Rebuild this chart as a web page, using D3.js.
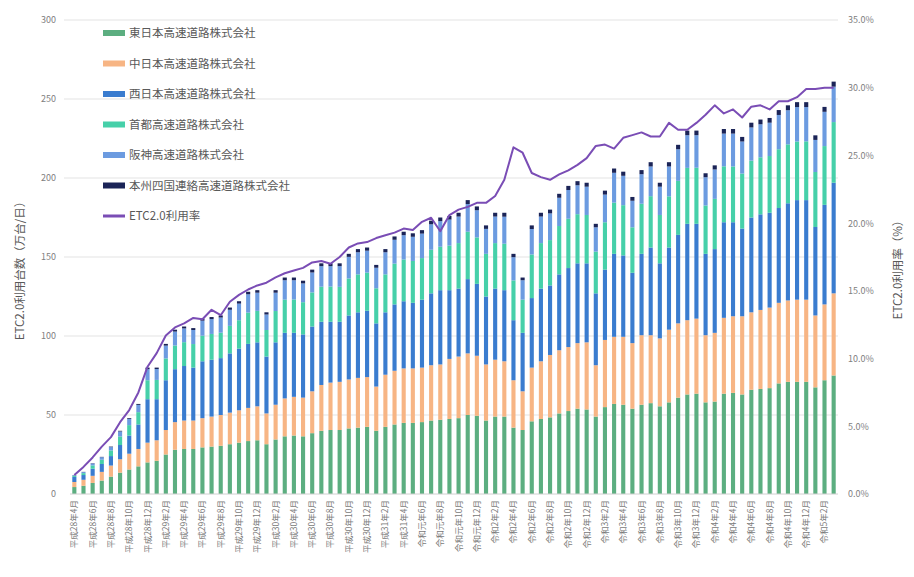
<!DOCTYPE html>
<html>
<head>
<meta charset="utf-8">
<script src="https://d3js.org/d3.v7.min.js"></script>
<style>
  body { margin: 0; background: #fff; }
  text { font-family: "Noto Sans CJK JP", "Noto Sans", sans-serif; }
</style>
</head>
<body>
<div class="chart"></div>
<script>
(function() {

// categories (monthly)
var months = [
  '平成28年4月','平成28年5月','平成28年6月','平成28年7月','平成28年8月','平成28年9月',
  '平成28年10月','平成28年11月','平成28年12月','平成29年1月','平成29年2月','平成29年3月',
  '平成29年4月','平成29年5月','平成29年6月','平成29年7月','平成29年8月','平成29年9月',
  '平成29年10月','平成29年11月','平成29年12月','平成30年1月','平成30年2月','平成30年3月',
  '平成30年4月','平成30年5月','平成30年6月','平成30年7月','平成30年8月','平成30年9月',
  '平成30年10月','平成30年11月','平成30年12月','平成31年1月','平成31年2月','平成31年3月',
  '平成31年4月','令和元年5月','令和元年6月','令和元年7月','令和元年8月','令和元年9月',
  '令和元年10月','令和元年11月','令和元年12月','令和2年1月','令和2年2月','令和2年3月',
  '令和2年4月','令和2年5月','令和2年6月','令和2年7月','令和2年8月','令和2年9月',
  '令和2年10月','令和2年11月','令和2年12月','令和3年1月','令和3年2月','令和3年3月',
  '令和3年4月','令和3年5月','令和3年6月','令和3年7月','令和3年8月','令和3年9月',
  '令和3年10月','令和3年11月','令和3年12月','令和4年1月','令和4年2月','令和4年3月',
  '令和4年4月','令和4年5月','令和4年6月','令和4年7月','令和4年8月','令和4年9月',
  '令和4年10月','令和4年11月','令和4年12月','令和5年1月','令和5年2月','令和5年3月'
];

// 万台/日
var east = [4.4,5.2,7,8.5,11,13.5,15.5,17.5,20,21,25,28,28.5,28.5,29.5,30,30.5,31.5,32.5,33.5,34,31.5,34.5,36.5,
  37,36.5,38.5,40,40.5,40.5,41.5,42,42.5,40,42.5,44,45,45,45.5,46.5,47,47.5,48,50,49.5,46.5,49,49,
  42,40.5,46,47.5,48.5,51,52.5,54,53.5,49,55,57,56.5,54,56.5,57.5,55.5,58,61,63,63.5,58,58.5,63.5,
  64,63,66,66.5,67,70,71,71,71,67.5,72,75];
var central = [3.2,3.8,4.5,5.5,7,8.5,10,11,12.5,13,15.5,17.5,18,18,18.5,19,19.5,20,20.5,21,21.5,19.5,22,24,
  24.5,24.5,26.5,29,30,30.5,31,31.5,31.5,28,33,34,34.5,34.5,34.5,35,35,38,39,39,38,35.5,36,35,
  30,24.5,34,36.5,39.5,40,40.5,41.5,42.5,32.5,42.5,42.5,43,41.5,44,43,43,46,47,47,47.5,42.5,43.5,48,
  48.5,49.5,49,50,51,51,51.5,52,52,45.5,48,52];
var west = [3.2,3,4.5,5,6,9,11.5,15.5,27.5,26,31.5,33.5,34.5,33.5,36,36,36,37.5,39,40.5,40.5,36,39.5,41.5,
  40.5,40,41,40,38.5,38,40.5,41.5,42,40,39.5,42,42.5,41.5,43,45.5,47,43.5,43,47,45.5,43,45,45,
  38,37,44,46,44,48,50,50.5,50,45.5,44.5,52.5,51.5,44.5,51.5,55.5,47.5,52,56,61,60,51.5,53,60.5,
  59.5,55.5,60,60.5,60,60,61.5,63,63,56,63,70];
var shuto = [0.7,1.2,2.1,2.7,3.6,5.4,6.6,7.8,12,12.2,13.8,15,15.1,14.9,16.2,16.3,16.1,17.4,18,19.8,19.9,16.8,19.8,21,
  21.1,20.4,21.6,22.2,22.3,22.1,23.4,24,24.1,22.2,24,25.8,26.4,26.5,26.3,27.6,27.5,28.2,28.8,30,29.4,27,28.8,29.4,
  25.2,21,27.6,28.8,28.7,30.6,31.2,31.1,30.6,26.4,30,32.4,31.8,28.8,31.7,32.5,30.6,32.4,34.2,35.4,35.5,30.6,31.8,35.4,
  35.3,34.8,36,36.1,35.9,37.2,37.3,37.1,37.2,34.8,37.2,38.4];
var hanshin = [0.4,0.7,1.2,1.6,2.1,3.2,3.9,4.6,7,6.9,8.1,8.8,8.7,8.9,9.5,9.4,9.6,10.2,10.5,11.6,11.5,9.8,11.6,12.3,
  12.2,11.9,12.6,13,12.9,13.1,13.7,14,13.9,13,14,15.1,15.4,15.3,15.5,16.1,16.2,16.5,16.8,17.5,17.2,15.8,16.8,17.1,
  14.7,12.3,16.1,16.8,16.9,17.9,18.2,18.3,17.9,15.4,17.5,18.9,18.6,16.8,18.7,18.8,17.9,18.9,20,20.7,20.6,17.9,18.6,20.7,
  20.8,20.3,21,20.9,21.1,21.7,21.6,21.8,21.7,20.3,21.7,22.4];
var honshi = [0.1,0.1,0.2,0.2,0.3,0.4,0.5,0.6,1,0.9,1.1,1.2,1.2,1.2,1.3,1.3,1.3,1.4,1.5,1.6,1.6,1.4,1.6,1.7,
  1.7,1.7,1.8,1.8,1.8,1.8,1.9,2,2,1.8,2,2.1,2.2,2.2,2.2,2.3,2.3,2.3,2.4,2.5,2.4,2.2,2.4,2.5,
  2.1,1.7,2.3,2.4,2.4,2.5,2.6,2.6,2.5,2.2,2.5,2.7,2.6,2.4,2.6,2.7,2.5,2.7,2.8,2.9,2.9,2.5,2.6,2.9,
  2.9,2.9,3,3,3,3.1,3.1,3.1,3.1,2.9,3.1,3.2];

// ETC2.0利用率 (%)
var rate = [1.4,2.0,2.7,3.5,4.2,5.3,6.2,7.5,9.4,10.4,11.7,12.3,12.6,13.0,12.9,13.6,13.2,14.2,14.7,15.1,15.4,15.6,16.0,16.3,
  16.5,16.7,17.1,17.2,17.0,17.5,18.2,18.5,18.6,18.9,19.1,19.3,19.6,19.5,20.1,20.4,19.4,20.6,21.0,21.2,21.5,21.5,22.0,23.2,
  25.6,25.2,23.7,23.4,23.2,23.6,23.9,24.3,24.8,25.7,25.8,25.5,26.3,26.5,26.7,26.4,26.4,27.4,26.9,26.9,27.4,28.0,28.7,28.1,
  28.4,27.8,28.6,28.7,28.4,29.0,29.0,29.3,29.9,29.9,30.0,30.0];

var seriesNames = ['東日本高速道路株式会社','中日本高速道路株式会社','西日本高速道路株式会社',
  '首都高速道路株式会社','阪神高速道路株式会社','本州四国連絡高速道路株式会社'];
var lineName = 'ETC2.0利用率';
var leftTicks = [0, 50, 100, 150, 200, 250, 300];
var rightTicks = [0, 5, 10, 15, 20, 25, 30, 35];

var colors = ['#5cae80', '#f7b584', '#3a7ccf', '#46d0a9', '#6c9be0', '#1b2457'];
var lineColor = '#7a4db5';

var width = 914, height = 577;
var margin = {top: 20, right: 76, bottom: 83, left: 70};
var innerW = width - margin.left - margin.right;
var innerH = height - margin.top - margin.bottom;

var svg = d3.select('.chart')
  .append('svg')
  .attr('width', width)
  .attr('height', height);

var g = svg.append('g')
  .attr('transform', 'translate(' + margin.left + ',' + margin.top + ')');

var x = d3.scaleBand()
  .domain(months)
  .range([0, innerW])
  .paddingInner(0.55)
  .paddingOuter(0.25);

var y = d3.scaleLinear().domain([0, 300]).range([innerH, 0]);
var y2 = d3.scaleLinear().domain([0, 35]).range([innerH, 0]);

// gridlines
g.selectAll('.grid').data(leftTicks.slice(1)).enter()
  .append('line')
  .attr('x1', -6)
  .attr('x2', innerW)
  .attr('y1', function(d) { return y(d); })
  .attr('y2', function(d) { return y(d); })
  .attr('stroke', '#e3e3e3')
  .attr('stroke-width', 1);

// build table for the stack
var keys = ['east', 'central', 'west', 'shuto', 'hanshin', 'honshi'];
var cols = [east, central, west, shuto, hanshin, honshi];
var table = months.map(function(m, i) {
  var row = {month: m};
  keys.forEach(function(k, j) { row[k] = cols[j][i]; });
  return row;
});

var stacked = d3.stack().keys(keys)(table);

g.selectAll('.layer').data(stacked).enter()
  .append('g')
  .attr('fill', function(d, i) { return colors[i]; })
  .selectAll('rect').data(function(d) { return d; }).enter()
  .append('rect')
  .attr('x', function(d) { return x(d.data.month); })
  .attr('width', x.bandwidth())
  .attr('y', function(d) { return y(d[1]); })
  .attr('height', function(d) { return y(d[0]) - y(d[1]); });

// x axis line
g.append('line')
  .attr('x1', 0).attr('x2', innerW)
  .attr('y1', innerH).attr('y2', innerH)
  .attr('stroke', '#d0d0d0');

// rate line
var line = d3.line()
  .x(function(d, i) { return x(months[i]) + x.bandwidth() / 2; })
  .y(function(d) { return y2(d); });

g.append('path')
  .datum(rate)
  .attr('d', line)
  .attr('fill', 'none')
  .attr('stroke', lineColor)
  .attr('stroke-width', 2)
  .attr('stroke-linejoin', 'round');

// left axis
var yAxis = d3.axisLeft(y).tickValues(leftTicks).tickSize(0).tickPadding(14);
g.append('g').call(yAxis)
  .call(function(s) { s.select('.domain').remove(); })
  .selectAll('text')
  .style('fill', '#808080')
  .style('font-size', '9px');

// right axis
var y2Axis = d3.axisRight(y2).tickValues(rightTicks).tickSize(0).tickPadding(10)
  .tickFormat(function(d) { return d.toFixed(1) + '%'; });
g.append('g')
  .attr('transform', 'translate(' + innerW + ',0)')
  .call(y2Axis)
  .call(function(s) { s.select('.domain').remove(); })
  .selectAll('text')
  .style('fill', '#808080')
  .style('font-size', '9px');

// bottom labels, every other month
var xAxis = d3.axisBottom(x)
  .tickValues(months.filter(function(d, i) { return i % 2 === 0; }))
  .tickSize(0)
  .tickPadding(6);
g.append('g')
  .attr('transform', 'translate(0,' + innerH + ')')
  .call(xAxis)
  .call(function(s) { s.select('.domain').remove(); })
  .selectAll('text')
  .style('fill', '#7a7a7a')
  .style('font-size', '8.5px')
  .attr('text-anchor', 'end')
  .attr('dx', '-6')
  .attr('dy', '0.35em')
  .attr('y', 0)
  .attr('transform', 'rotate(-90)');

// axis titles
svg.append('text')
  .attr('transform', 'translate(24,' + 268 + ') rotate(-90)')
  .attr('text-anchor', 'middle')
  .attr('fill', '#595959')
  .style('font-size', '11.5px')
  .text('ETC2.0利用台数（万台/日）');

svg.append('text')
  .attr('transform', 'translate(902,' + 267 + ') rotate(-90)')
  .attr('text-anchor', 'middle')
  .attr('fill', '#595959')
  .style('font-size', '11.5px')
  .text('ETC2.0利用率（%）');

// legend
var legendItems = seriesNames.concat([lineName]);
var legend = svg.append('g').attr('transform', 'translate(103,33)');
var items = legend.selectAll('g').data(legendItems).enter()
  .append('g')
  .attr('transform', function(d, i) { return 'translate(0,' + (i * 30.5) + ')'; });

items.append('rect')
  .attr('x', 0)
  .attr('y', function(d, i) { return i < 6 ? -3 : -1.5; })
  .attr('width', 22)
  .attr('height', function(d, i) { return i < 6 ? 6 : 3; })
  .attr('fill', function(d, i) { return i < 6 ? colors[i] : lineColor; });

items.append('text')
  .attr('x', 26)
  .attr('dy', '0.35em')
  .attr('fill', '#595959')
  .style('font-size', '11.5px')
  .text(function(d) { return d; });

})();
</script>
</body>
</html>
